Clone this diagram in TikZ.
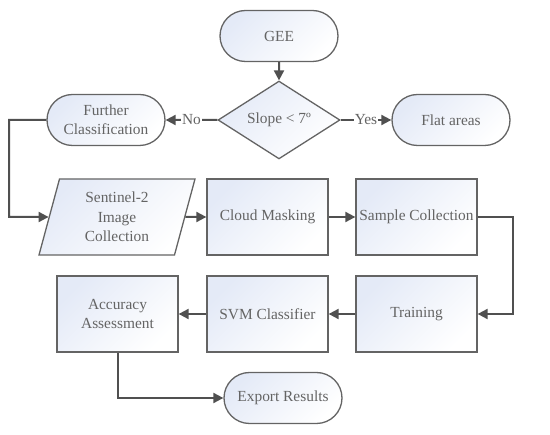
\documentclass[tikz,border=0pt]{standalone}
\usepackage{fontspec}
\setmainfont{Liberation Serif}
\usepackage{xcolor}
\definecolor{borde}{RGB}{100,100,100}
\definecolor{flecha}{RGB}{80,80,80}
\definecolor{texto}{RGB}{100,100,100}
\definecolor{relleno}{RGB}{228,234,247}
\usepackage{tikz}
\usetikzlibrary{arrows.meta,shapes.geometric,shapes.misc}

\tikzset{
  caja/.style={draw=borde,line width=1.3pt,left color=relleno,right color=white,shading angle=45,
    text=texto,font=\fontsize{15.4}{19.3}\selectfont,align=center,inner sep=2pt},
  proceso/.style={caja,rectangle,minimum width=121pt,minimum height=76pt},
  terminal/.style={caja,rounded rectangle,minimum width=122pt,minimum height=51pt},
  decision/.style={caja,diamond,minimum width=122pt,minimum height=76pt,inner sep=0pt},
  datos/.style={caja,trapezium,trapezium left angle=69,trapezium right angle=111,
    trapezium stretches body,minimum width=156pt,minimum height=76pt},
  flujo/.style={-{Triangle[length=10pt,width=10pt]},line width=2pt,draw=flecha},
  etiqueta/.style={fill=white,text=texto,inner sep=1pt,font=\fontsize{15.4}{19.3}\selectfont}
}

\begin{document}
\begin{tikzpicture}[x=1pt,y=-1pt]
  \useasboundingbox (0,0) rectangle (550,435);
  % upper part
  \node[terminal] (gee) at (279,36) {GEE};
  \node[decision] (pendiente) at (279,120) {Slope < 7º};
  \node[terminal] (further) at (106,120) {Further\\Classification};
  \node[terminal] (flat) at (451,120) {Flat areas};
  % processing rows
  \node[datos] (sentinel) at (117,217) {Sentinel-2\\Image\\Collection};
  \node[proceso] (cloud) at (267.5,217) {Cloud Masking};
  \node[proceso] (sample) at (416.5,217) {Sample Collection};
  \node[proceso] (training) at (416.5,314) {Training};
  \node[proceso] (svm) at (267.5,314) {SVM Classifier};
  \node[proceso] (accuracy) at (117.5,314) {Accuracy\\Assessment};
  \node[terminal] (export) at (283,398) {Export Results};
  \coordinate (codoA) at (9,120);
  \coordinate (codoB) at (9,217);
  \coordinate (codoC) at (513,217);
  \coordinate (codoD) at (513,314);
  \coordinate (codoE) at (117.5,398);
  % connectors
  \draw[flujo] (gee) -- (pendiente);
  \draw[flujo] (pendiente) -- node[etiqueta]{No} (further);
  \draw[flujo] (pendiente) -- node[etiqueta]{Yes} (flat);
  \draw[flujo] (further.west) -- (codoA) -- (codoB) -- (sentinel.west);
  \draw[flujo] (sentinel.east) -- (cloud);
  \draw[flujo] (cloud) -- (sample);
  \draw[flujo] (sample.east) -- (codoC) -- (codoD) -- (training.east);
  \draw[flujo] (training) -- (svm);
  \draw[flujo] (svm) -- (accuracy);
  \draw[flujo] (accuracy.south) -- (codoE) -- (export.west);
\end{tikzpicture}
\end{document}
